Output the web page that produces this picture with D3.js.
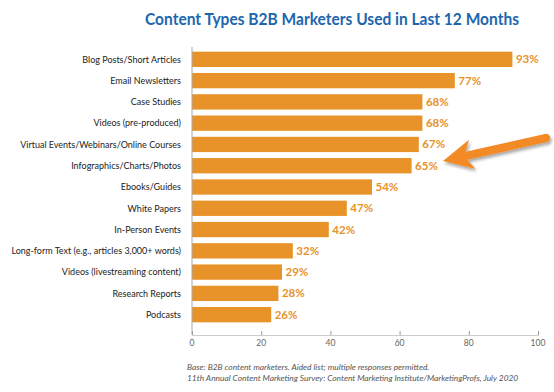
<!DOCTYPE html>
<html>
<head>
<meta charset="utf-8">
<script src="https://cdn.jsdelivr.net/npm/d3@7"></script>
<style>
  body { margin: 0; background: #fff; }
</style>
</head>
<body>
<div id="chart"></div>
<script>
const categories = [
  'Blog Posts/Short Articles',
  'Email Newsletters',
  'Case Studies',
  'Videos (pre-produced)',
  'Virtual Events/Webinars/Online Courses',
  'Infographics/Charts/Photos',
  'Ebooks/Guides',
  'White Papers',
  'In-Person Events',
  'Long-form Text (e.g., articles 3,000+ words)',
  'Videos (livestreaming content)',
  'Research Reports',
  'Podcasts',
];
const values = [93, 77, 68, 68, 67, 65, 54, 47, 42, 32, 29, 28, 26];
const xTicks = [0, 20, 40, 60, 80, 100];
const title = 'Content Types B2B Marketers Used in Last 12 Months';
const notes = [
  'Base: B2B content marketers. Aided list; multiple responses permitted.',
  '11th Annual Content Marketing Survey: Content Marketing Institute/MarketingProfs, July 2020',
];

const W = 554;
const H = 392;
const orange = '#e8922a';
const font = 'Lato, sans-serif';

const svg = d3.select('#chart')
  .append('svg')
  .attr('width', W)
  .attr('height', H);

// axis scale (tick positions)
const x = d3.scaleLinear()
  .domain([0, 100])
  .range([192, 538]);

// the bars in the original artwork run on a slightly different scale than the ticks
const xBar = d3.scaleLinear()
  .domain([0, 100])
  .range([177.6, 537.6]);

const y = d3.scaleBand()
  .domain(categories)
  .range([48.7, 325.3])
  .paddingInner(0.28)
  .paddingOuter(0.14);

// title
svg.append('text')
  .attr('x', 145)
  .attr('y', 25)
  .attr('textLength', 374)
  .attr('lengthAdjust', 'spacingAndGlyphs')
  .style('font-family', font)
  .style('font-weight', 'bold')
  .style('font-size', '17px')
  .style('fill', '#2066ae')
  .text(title);

// bars
svg.append('g')
  .selectAll('rect')
  .data(values)
  .enter().append('rect')
  .attr('x', x(0))
  .attr('y', (d, i) => y(categories[i]))
  .attr('width', (d) => xBar(d) - x(0))
  .attr('height', y.bandwidth())
  .attr('fill', orange);

// value labels
svg.append('g')
  .selectAll('text')
  .data(values)
  .enter().append('text')
  .attr('x', (d) => xBar(d) + 3.5)
  .attr('y', (d, i) => y(categories[i]) + y.bandwidth() / 2 + 4)
  .style('font-family', font)
  .style('font-weight', 'bold')
  .style('font-size', '11.5px')
  .style('fill', orange)
  .text((d) => d + '%');

// category labels
svg.append('g')
  .selectAll('text')
  .data(categories)
  .enter().append('text')
  .attr('x', 181)
  .attr('y', (d) => y(d) + y.bandwidth() / 2 + 3.3)
  .attr('text-anchor', 'end')
  .style('font-family', font)
  .style('font-size', '9px')
  .style('fill', '#222')
  .text((d) => d);

// axes
svg.append('line')
  .attr('x1', x(0)).attr('x2', x(0))
  .attr('y1', 47).attr('y2', 335)
  .attr('stroke', '#aaa')
  .attr('stroke-width', 1);

const xAxis = svg.append('g')
  .attr('transform', 'translate(0,335)')
  .call(d3.axisTop(x).tickValues(xTicks).tickSize(4).tickFormat(''));
xAxis.select('.domain').attr('stroke', '#ccc');
xAxis.selectAll('.tick line').attr('stroke', '#999');

svg.append('g')
  .selectAll('text')
  .data(xTicks)
  .enter().append('text')
  .attr('x', (d) => x(d))
  .attr('y', 346)
  .attr('text-anchor', 'middle')
  .style('font-family', font)
  .style('font-size', '8.5px')
  .style('fill', '#666')
  .text((d) => d);

// footnotes
svg.append('g')
  .selectAll('text')
  .data(notes)
  .enter().append('text')
  .attr('x', 187)
  .attr('y', (d, i) => 369.5 + i * 11.5)
  .style('font-family', font)
  .style('font-style', 'italic')
  .style('font-size', '8.4px')
  .style('fill', '#555')
  .text((d) => d);

// arrow pointing at Infographics
const defs = svg.append('defs');
const shadow = defs.append('filter').attr('id', 'shadow')
  .attr('x', '-20%').attr('y', '-30%').attr('width', '150%').attr('height', '180%');
shadow.append('feDropShadow')
  .attr('dx', 1.5).attr('dy', 2.5).attr('stdDeviation', 1.8)
  .attr('flood-color', '#000').attr('flood-opacity', 0.35);

const tip = [443, 161];
const tail = [546, 138];
const dx = tip[0] - tail[0];
const dy = tip[1] - tail[1];
const len = Math.sqrt(dx * dx + dy * dy);
const ux = dx / len;
const uy = dy / len;
const px = -uy;
const py = ux;
const headLen = 30;
const headW = 15;
const shaftW = 4.2;
const base = [tip[0] - ux * headLen, tip[1] - uy * headLen];
const arrowPts = [
  [tail[0] + px * shaftW, tail[1] + py * shaftW],
  [base[0] + px * shaftW + ux * 6, base[1] + py * shaftW + uy * 6],
  [base[0] + px * headW, base[1] + py * headW],
  tip,
  [base[0] - px * headW, base[1] - py * headW],
  [base[0] - px * shaftW + ux * 6, base[1] - py * shaftW + uy * 6],
  [tail[0] - px * shaftW, tail[1] - py * shaftW],
];
const arrow = svg.append('g').attr('filter', 'url(#shadow)');
arrow.append('path')
  .attr('d', d3.line()(arrowPts) + 'Z')
  .attr('fill', '#f28a26');
arrow.append('circle')
  .attr('cx', tail[0]).attr('cy', tail[1])
  .attr('r', shaftW)
  .attr('fill', '#f28a26');
</script>
</body>
</html>
